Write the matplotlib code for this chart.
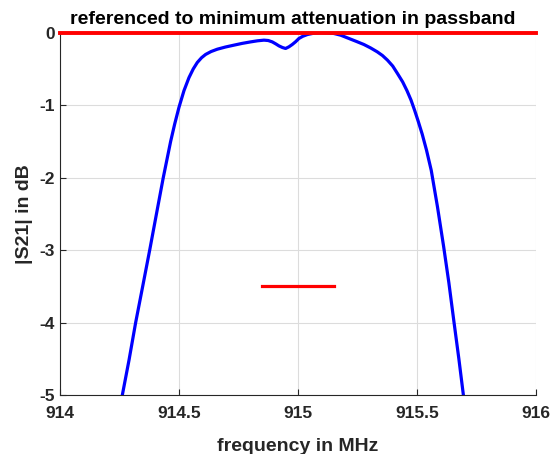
import matplotlib.pyplot as plt

# values
freq = [914.24, 914.262, 914.290, 914.318, 914.347, 914.377, 914.406, 914.434, 914.465,
        914.482, 914.500, 914.521, 914.542, 914.560, 914.577, 914.595, 914.612, 914.635,
        914.661, 914.695, 914.731, 914.765, 914.801, 914.830, 914.857, 914.875, 914.892,
        914.907, 914.920, 914.935, 914.948, 914.962, 914.976, 914.990, 915.004, 915.020,
        915.040, 915.065, 915.095, 915.125, 915.151, 915.180, 915.208, 915.245, 915.277,
        915.305, 915.333, 915.355, 915.376, 915.398, 915.418, 915.440, 915.458, 915.475,
        915.490, 915.505, 915.522, 915.540, 915.560, 915.586, 915.612, 915.634, 915.655,
        915.676, 915.695, 915.71]
s21 = [-5.3, -5.0, -4.52, -4.0, -3.51, -3.0, -2.49, -2.0, -1.50,
       -1.26, -1.03, -0.80, -0.62, -0.50, -0.411, -0.345, -0.30, -0.26,
       -0.228, -0.198, -0.172, -0.148, -0.127, -0.112, -0.103, -0.108, -0.127,
       -0.155, -0.182, -0.205, -0.218, -0.195, -0.163, -0.125, -0.08, -0.05,
       -0.025, -0.008, 0.0, -0.003, -0.011, -0.035, -0.072, -0.12, -0.163,
       -0.21, -0.264, -0.315, -0.379, -0.46, -0.563, -0.68, -0.80, -0.93,
       -1.07, -1.22, -1.40, -1.62, -1.90, -2.40, -2.95, -3.45, -3.98,
       -4.50, -5.0, -5.3]

ref_x = [914, 916]
ref_y = [0, 0]
bw_x = [914.85, 915.15]
bw_y = [-3.5, -3.5]

plt.rcParams['font.family'] = ['Liberation Sans', 'DejaVu Sans']
plt.rcParams['font.weight'] = 'bold'

fig = plt.figure(figsize=(5.58, 4.54), dpi=100)
ax = fig.add_axes([0.1075, 0.130, 0.853, 0.798])

ax.plot(freq, s21, color='#0000ff', linewidth=2.3)
ax.plot(ref_x, ref_y, color='#ff0000', linewidth=2.8, clip_on=False, zorder=5)
ax.plot(bw_x, bw_y, color='#ff0000', linewidth=2.3)

ax.set_xlim(914, 916)
ax.set_ylim(-5, 0)
ax.set_xticks([914, 914.5, 915, 915.5, 916])
ax.set_xticklabels(['914', '914.5', '915', '915.5', '916'])
ax.set_yticks([-5, -4, -3, -2, -1, 0])
ax.set_yticklabels(['-5', '-4', '-3', '-2', '-1', '0'])
ax.grid(True, color='#dcdcdc', linewidth=0.8)
ax.set_axisbelow(True)

for side in ['top', 'right']:
    ax.spines[side].set_visible(False)
for side in ['left', 'bottom']:
    ax.spines[side].set_color('#262626')
ax.tick_params(direction='in', colors='#262626', labelsize=12.5, length=4)
ax.tick_params(axis='x', pad=8)

ax.set_xlabel('frequency in MHz', fontsize=14, fontweight='bold', color='#262626', labelpad=12)
ax.set_ylabel('|S21| in dB', fontsize=14, fontweight='bold', color='#262626', labelpad=5)
ax.set_title('referenced to minimum attenuation in passband', fontsize=14,
             fontweight='bold', color='black', pad=6, x=0.49)

fig.savefig('out.png', dpi=100)
